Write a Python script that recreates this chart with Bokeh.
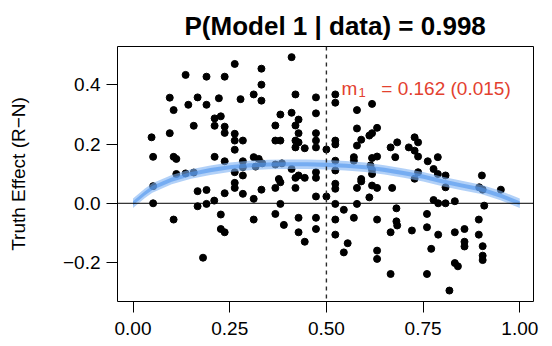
from bokeh.plotting import figure
from bokeh.models import Range1d, FixedTicker, Span, Label
from bokeh.embed import file_html
from bokeh.resources import INLINE

# ---- data ----
x_vals = [
    0.263, 0.136, 0.190, 0.237, 0.312, 0.095, 0.167, 0.222, 0.278, 0.143,
    0.190, 0.105, 0.211, 0.227, 0.157, 0.211, 0.237, 0.095, 0.237, 0.263,
    0.048, 0.263, 0.284, 0.263, 0.052, 0.105, 0.112, 0.211, 0.237, 0.284,
    0.312, 0.112, 0.136, 0.157, 0.263, 0.284, 0.284,
    0.052, 0.263, 0.263, 0.167, 0.190, 0.237, 0.284, 0.312, 0.052, 0.167,
    0.190, 0.210, 0.105, 0.227, 0.312, 0.227, 0.237, 0.181,
    0.410, 0.332, 0.332, 0.420, 0.332, 0.473, 0.523, 0.523, 0.618, 0.381,
    0.410, 0.428, 0.473, 0.579, 0.368, 0.420, 0.428, 0.473, 0.579, 0.631,
    0.618, 0.611, 0.590, 0.368, 0.381, 0.420, 0.428, 0.473, 0.523, 0.523,
    0.579, 0.420, 0.444, 0.473, 0.500, 0.666, 0.325, 0.368, 0.385, 0.523,
    0.571, 0.571, 0.618, 0.631, 0.678, 0.410, 0.523, 0.614, 0.618, 0.317,
    0.428, 0.420, 0.444, 0.473, 0.473, 0.377, 0.590, 0.618, 0.334,
    0.381, 0.368, 0.332, 0.420, 0.523, 0.523, 0.590, 0.579, 0.618, 0.631,
    0.473, 0.500, 0.611, 0.381, 0.523, 0.579, 0.545, 0.368, 0.428, 0.473,
    0.523, 0.571, 0.631, 0.390, 0.428, 0.473, 0.523, 0.444, 0.555, 0.545,
    0.631, 0.631, 0.666, 0.666, 0.670,
    0.683, 0.713, 0.728, 0.737, 0.728, 0.737, 0.762, 0.788, 0.777, 0.788,
    0.808, 0.737, 0.902,
    0.728, 0.808, 0.895, 0.904, 0.951, 0.777, 0.789, 0.808, 0.832, 0.908,
    0.681, 0.760, 0.681, 0.683, 0.721, 0.760, 0.789, 0.832, 0.857, 0.894,
    0.894, 0.771, 0.857, 0.857, 0.904, 0.904, 0.904, 0.832, 0.840, 0.760,
    0.818,
]
y_vals = [
    0.471, 0.434, 0.428, 0.428, 0.368, 0.357, 0.358, 0.355, 0.352, 0.333,
    0.333, 0.315, 0.287, 0.294, 0.262, 0.262, 0.259, 0.237, 0.238, 0.235,
    0.223, 0.212, 0.212, 0.181, 0.157, 0.157, 0.150, 0.157, 0.142, 0.142,
    0.156, 0.099, 0.101, 0.104, 0.105, 0.122, 0.094,
    0.058, 0.069, 0.052, 0.041, 0.045, 0.034, 0.032, 0.015, 0.000, -0.010,
    -0.002, 0.009, -0.055, -0.038, -0.055, -0.087, -0.098, -0.184,
    0.494, 0.455, 0.401, 0.368, 0.347, 0.358, 0.368, 0.340, 0.336, 0.300,
    0.306, 0.283, 0.304, 0.315, 0.263, 0.263, 0.237, 0.237, 0.253, 0.255,
    0.237, 0.229, 0.215, 0.212, 0.212, 0.212, 0.206, 0.212, 0.212, 0.199,
    0.195, 0.189, 0.186, 0.189, 0.182, 0.189, 0.150, 0.131, 0.135, 0.144,
    0.156, 0.144, 0.153, 0.158, 0.156, 0.116, 0.111, 0.128, 0.113, 0.124,
    0.094, 0.086, 0.086, 0.105, 0.086, 0.082, 0.082, 0.099, 0.135,
    0.071, 0.052, 0.046, 0.052, 0.066, 0.049, 0.074, 0.052, 0.060, 0.052,
    0.023, 0.023, 0.020, -0.002, -0.002, -0.002, -0.022, -0.036, -0.049, -0.049,
    -0.055, -0.049, -0.055, -0.073, -0.098, -0.087, -0.106, -0.130, -0.135, -0.166,
    -0.160, -0.188, -0.098, -0.239, 0.052,
    0.206, 0.189, 0.223, 0.206, 0.178, 0.158, 0.142, 0.156, 0.116, 0.099,
    0.094, 0.105, 0.094,
    0.083, 0.054, 0.054, 0.046, 0.046, 0.011, 0.000, 0.000, 0.007, -0.008,
    -0.017, -0.036, -0.061, -0.075, -0.092, -0.081, -0.106, -0.098, -0.087, -0.055,
    -0.106, -0.154, -0.130, -0.146, -0.145, -0.177, -0.192, -0.202, -0.213, -0.239,
    -0.295,
]

curve_x = [0.0, 0.03, 0.05, 0.10, 0.15, 0.20, 0.25, 0.30, 0.35, 0.40, 0.45,
           0.50, 0.55, 0.60, 0.65, 0.70, 0.75, 0.80, 0.85, 0.90, 0.95, 1.0]
curve_y = [0.0, 0.033, 0.052, 0.080, 0.099, 0.112, 0.122, 0.128, 0.131, 0.132, 0.132,
           0.130, 0.127, 0.122, 0.113, 0.102, 0.090, 0.074, 0.060, 0.047, 0.026, 0.0]

x_ticks = [0.0, 0.25, 0.5, 0.75, 1.0]
x_tick_labels = ["0.00", "0.25", "0.50", "0.75", "1.00"]
y_ticks = [-0.2, 0.0, 0.2, 0.4]
y_tick_labels = ["\u22120.2", "0.0", "0.2", "0.4"]

p_model1 = "0.998"
m1_est = "0.162"
m1_se = "0.015"

FONT = "Liberation Sans"
RED = "#E3412F"

p = figure(frame_width=416, frame_height=255,
           min_border_left=117, min_border_right=19,
           min_border_top=46, min_border_bottom=45,
           x_range=Range1d(-0.0401, 1.0354), y_range=Range1d(-0.332, 0.530),
           output_backend="svg", toolbar_location=None,
           title="P(Model 1 | data) = " + p_model1)

p.title.text_font = FONT
p.title.text_font_size = "26px"
p.title.text_font_style = "bold"
p.title.text_color = "black"
p.title.align = "left"
p.title.offset = 67
p.title.standoff = 12

p.xgrid.visible = False
p.ygrid.visible = False
p.outline_line_color = "black"
p.outline_line_width = 1
p.background_fill_color = "white"
p.border_fill_color = "white"

for ax in (p.xaxis[0], p.yaxis[0]):
    ax.axis_line_color = None
    ax.major_tick_out = 11
    ax.major_tick_in = 0
    ax.minor_tick_out = 0
    ax.minor_tick_in = 0
    ax.major_tick_line_color = "black"
    ax.major_label_text_font = FONT
    ax.major_label_text_font_size = "19px"
    ax.major_label_text_color = "black"

p.xaxis.ticker = FixedTicker(ticks=x_ticks)
p.xaxis.major_label_overrides = dict(zip(x_ticks, x_tick_labels))
p.xaxis.major_label_standoff = 9
p.yaxis.ticker = FixedTicker(ticks=y_ticks)
p.yaxis.major_label_overrides = dict(zip(y_ticks, y_tick_labels))
p.yaxis.major_label_standoff = 6
p.yaxis.major_label_orientation = "horizontal"
p.yaxis.axis_label = "Truth Effect (R\u2212N)"
p.yaxis.axis_label_text_font = FONT
p.yaxis.axis_label_text_font_size = "19px"
p.yaxis.axis_label_text_font_style = "normal"
p.yaxis.axis_label_text_color = "black"
p.yaxis.axis_label_standoff = 31

p.add_layout(Span(location=0, dimension="width", line_color="black", line_width=1))
p.add_layout(Span(location=0.5, dimension="height", line_color="#2a2a2a",
                  line_width=1.4, line_dash="4 4"))

p.scatter(x_vals, y_vals, size=7, fill_color="black", line_color="black")

outer = 0.016
inner = 0.007
p.varea(x=curve_x, y1=[v - outer for v in curve_y], y2=[v + outer for v in curve_y],
        fill_color="#7fb3f3", fill_alpha=0.6)
p.varea(x=curve_x, y1=[v - inner for v in curve_y], y2=[v + inner for v in curve_y],
        fill_color="#4f95ef", fill_alpha=0.6)

p.add_layout(Label(x=0.539, y=0.388, text="m", text_color=RED, text_font=FONT,
                   text_font_size="19px", text_baseline="alphabetic"))
p.add_layout(Label(x=0.583, y=0.374, text="1", text_color=RED, text_font=FONT,
                   text_font_size="13px", text_baseline="alphabetic"))
p.add_layout(Label(x=0.642, y=0.388, text="= " + m1_est + " (" + m1_se + ")",
                   text_color=RED, text_font=FONT, text_font_size="19px",
                   text_baseline="alphabetic"))

open("out.html", "w").write(file_html(p, INLINE))
